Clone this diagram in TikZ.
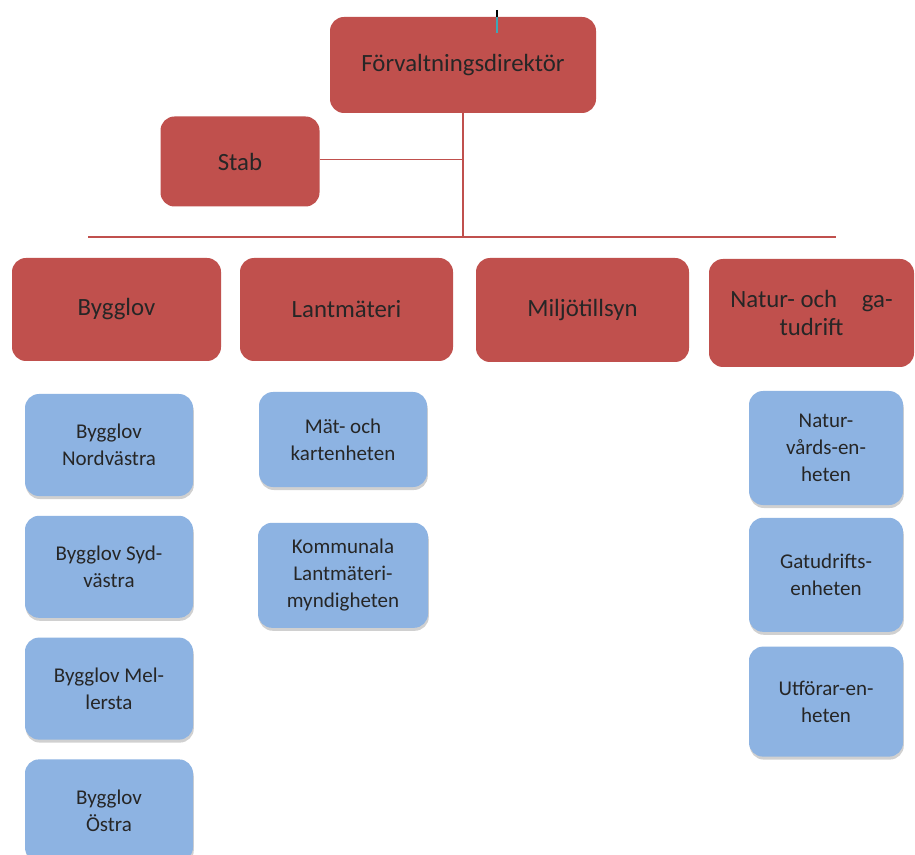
\documentclass[tikz,border=0pt]{standalone}
\usepackage{fontspec}
\setmainfont{Carlito}
\usepackage{xcolor}
\usepackage{tikz}
\usetikzlibrary{positioning,shadows}

\definecolor{orgred}{HTML}{C0504D}
\definecolor{orgblue}{HTML}{8DB3E2}
\definecolor{marker}{HTML}{3FA7B5}

\begin{document}
\begin{tikzpicture}[x=0.5pt, y=-0.5pt,
  head/.style={rectangle, fill=orgred, rounded corners=7pt, align=center,
    inner sep=0pt, text=black!85, font=\fontsize{12.4}{14}\selectfont},
  unit/.style={rectangle, fill=orgblue, rounded corners=7pt, align=center,
    inner sep=0pt, text=black!85, font=\fontsize{10.5}{13.5}\selectfont,
    drop shadow={shadow xshift=0.4pt, shadow yshift=-1.5pt, opacity=0.3, fill=black!60}},
  link/.style={draw=orgred, line width=0.6pt},
]
  \fill[white] (0,0) rectangle (915,855);
  \useasboundingbox (0,0) rectangle (915,855);

  % top level
  \node[head, minimum width=133pt, minimum height=48pt] (dir) at (463,65) {Förvaltningsdirektör};
  \node[head, minimum width=79.5pt, minimum height=45pt] (stab) at (240,161.5) {Stab};

  % departments
  \node[head, minimum width=104.5pt, minimum height=51.5pt] (bygg) at (116.5,309.5) {Bygglov};
  \node[head, minimum width=106.5pt, minimum height=51.5pt] (lant) at (346.5,309.5) {Lantmäteri};
  \node[head, minimum width=106.5pt, minimum height=52pt]   (milj) at (582.5,310) {Miljötillsyn};
  \node[head, minimum width=102.5pt, minimum height=54pt]   (natur) at (811.5,313) {Natur- och\quad ga-\\tudrift};

  % bar
  \coordinate (barL) at (88,237);
  \coordinate (barR) at (836,237);
  \coordinate (barM) at (463,237);
  \draw[link] (barL) -- (barR);
  \draw[link] (dir) -- (barM);
  \draw[link] ([yshift=1pt]stab.east) -- ([yshift=1pt]stab.east -| barM);

  % cursor mark
  \coordinate (curA) at (497,10);
  \coordinate (curB) at (497,17);
  \coordinate (curC) at (497,33);
  \draw[black, line width=0.6pt] (curA) -- (curB);
  \draw[marker, line width=0.6pt] (curB) -- (curC);

  % Bygglov units
  \node[unit, minimum width=84pt, minimum height=51pt] (bnv) at (109,445) {Bygglov\\Nordvästra};
  \node[unit, minimum width=84pt, minimum height=51pt, below=9.5pt of bnv] (bsv) {Bygglov Syd-\\västra};
  \node[unit, minimum width=84pt, minimum height=51pt, below=9.5pt of bsv] (bme) {Bygglov Mel-\\lersta};
  \node[unit, minimum width=84pt, minimum height=51pt, below=9.5pt of bme] (bos) {Bygglov\\Östra};

  % Lantmäteri units
  \node[unit, minimum width=84pt, minimum height=47.5pt] (mat) at (343,439.5) {Mät- och\\kartenheten};
  \node[unit, minimum width=85pt, minimum height=52.5pt, below=17.5pt of mat] (kom) {Kommunala\\Lantmäteri-\\myndigheten};

  % Natur- och gatudrift units
  \node[unit, minimum width=77pt, minimum height=57pt] (nve) at (826,448) {Natur-\\vårds-en-\\heten};
  \node[unit, minimum width=77pt, minimum height=57pt, below=6pt of nve] (gat) {Gatudrifts-\\enheten};
  \node[unit, minimum width=77pt, minimum height=55pt, below=7pt of gat] (utf) {Utförar-en-\\heten};
\end{tikzpicture}
\end{document}
